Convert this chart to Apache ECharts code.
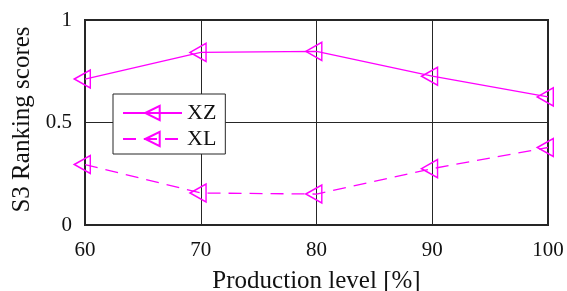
<!DOCTYPE html>
<html>
<head>
<meta charset="utf-8">
<script src="https://cdn.jsdelivr.net/npm/echarts/dist/echarts.min.js"></script>
<style>
    html, body { margin: 0; padding: 0; background: #fff; }
    #chart { width: 567px; height: 291px; }
</style>
</head>
<body>
<div id="chart"></div>
<script>
// values
const productionLevels = [60, 70, 80, 90, 100];
const xzScores = [0.712, 0.842, 0.847, 0.726, 0.625];
const xlScores = [0.295, 0.156, 0.151, 0.275, 0.378];
const seriesNames = ['XZ', 'XL'];

const magenta = '#ff00ff';
const ink = '#262626';
const serif = '"Liberation Serif", "Times New Roman", serif';

// left pointing triangle, hollow
const triangle = 'path://M0,9 L16,0 L16,18 Z';

const chart = echarts.init(document.getElementById('chart'));

function lineSeries(name, values, dashed) {
    return {
        name,
        type: 'line',
        data: productionLevels.map((x, i) => [x, values[i]]),
        symbol: triangle,
        symbolSize: [16, 18],
        symbolOffset: [-2.7, 0],
        clip: false,
        lineStyle: {
            color: magenta,
            width: 1.3,
            type: dashed ? [13, 8] : 'solid'
        },
        itemStyle: {
            color: 'rgba(255,255,255,0)',
            borderColor: magenta,
            borderWidth: 1.5
        },
        emphasis: { disabled: true }
    };
}

const option = {
    animation: false,
    grid: {
        left: 85,
        right: 19,
        top: 20,
        bottom: 66,
        outerBoundsMode: 'none',
        containLabel: false,
        show: true,
        borderColor: ink,
        borderWidth: 2,
        backgroundColor: '#fff'
    },
    legend: {
        data: seriesNames,
        orient: 'vertical',
        left: 113,
        top: 94,
        itemWidth: 59,
        itemHeight: 18,
        itemGap: 4,
        padding: [8, 9, 4, 9],
        backgroundColor: '#fff',
        borderColor: ink,
        borderWidth: 1,
        borderRadius: 0,
        selectedMode: false,
        textStyle: {
            fontFamily: serif,
            fontSize: 22,
            lineHeight: 18,
            color: '#111',
            padding: [0, 0, 0, 0]
        }
    },
    xAxis: {
        type: 'value',
        min: 60,
        max: 100,
        interval: 10,
        name: 'Production level [%]',
        nameLocation: 'middle',
        nameGap: 44,
        nameTextStyle: { fontFamily: serif, fontSize: 25, color: '#111' },
        axisLine: { show: true, lineStyle: { color: ink, width: 2 } },
        axisTick: { show: true, inside: true, length: 5, lineStyle: { color: ink } },
        axisLabel: { fontFamily: serif, fontSize: 21, color: '#111', margin: 15 },
        splitLine: { show: true, lineStyle: { color: ink, width: 1 } }
    },
    yAxis: {
        type: 'value',
        min: 0,
        max: 1,
        interval: 0.5,
        name: 'S3 Ranking scores',
        nameLocation: 'middle',
        nameGap: 48,
        nameTextStyle: { fontFamily: serif, fontSize: 25, color: '#111', padding: [0, 0, 0, 6] },
        axisLine: { show: true, lineStyle: { color: ink, width: 2 } },
        axisTick: { show: true, inside: true, length: 5, lineStyle: { color: ink } },
        axisLabel: { fontFamily: serif, fontSize: 21, color: '#111', margin: 13, padding: [6, 0, 0, 0] },
        splitLine: { show: true, lineStyle: { color: ink, width: 1 } }
    },
    series: [
        lineSeries(seriesNames[0], xzScores, false),
        lineSeries(seriesNames[1], xlScores, true)
    ]
};

chart.setOption(option);
</script>
</body>
</html>
